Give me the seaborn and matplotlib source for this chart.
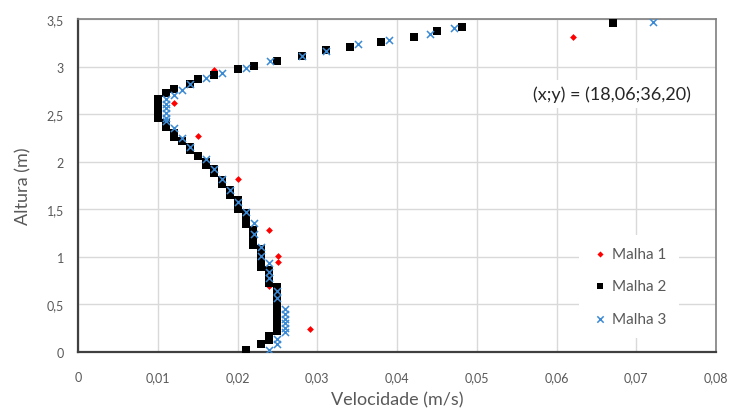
import matplotlib
matplotlib.use("Agg")
import matplotlib.pyplot as plt
import seaborn as sns
import pandas as pd
from matplotlib.ticker import FixedLocator, FuncFormatter

# ---- data (velocity m/s, height m) ----
m1_x = [0.0621, 0.0170, 0.0120, 0.0150, 0.0201, 0.0240, 0.0251, 0.0251, 0.0240, 0.0291]
m1_y = [3.314, 2.967, 2.617, 2.270, 1.815, 1.286, 1.006, 0.943, 0.697, 0.242]

m2_x = [0.0211, 0.0230, 0.0240, 0.0240,
        0.0250, 0.0250, 0.0250, 0.0250, 0.0250, 0.0250, 0.0250, 0.0250, 0.0250, 0.0250,
        0.0240, 0.0240, 0.0240, 0.0240,
        0.0230, 0.0230, 0.0230, 0.0230, 0.0230,
        0.0220, 0.0220, 0.0220, 0.0220,
        0.0211, 0.0211, 0.0211,
        0.0200, 0.0200, 0.0200,
        0.0190, 0.0190,
        0.0180, 0.0180,
        0.0170, 0.0170,
        0.0160, 0.0160,
        0.0150, 0.0140, 0.0140, 0.0130, 0.0120, 0.0120, 0.0110, 0.0110,
        0.0100, 0.0100, 0.0100, 0.0100, 0.0100,
        0.0110, 0.0120, 0.0140, 0.0150, 0.0171, 0.0200, 0.0221, 0.0250,
        0.0281, 0.0311, 0.0341, 0.0380, 0.0421, 0.0450, 0.0481, 0.0671]
m2_y = [0.02, 0.08, 0.13, 0.17,
        0.22, 0.27, 0.33, 0.38, 0.43, 0.48, 0.53, 0.58, 0.63, 0.68,
        0.72, 0.76, 0.81, 0.86,
        0.89, 0.92, 0.98, 1.03, 1.08,
        1.12, 1.18, 1.23, 1.28,
        1.35, 1.41, 1.46,
        1.50, 1.55, 1.60,
        1.65, 1.70,
        1.77, 1.81,
        1.88, 1.92,
        1.97, 2.00,
        2.06, 2.12, 2.15, 2.22, 2.26, 2.30, 2.36, 2.41,
        2.46, 2.51, 2.56, 2.61, 2.66,
        2.72, 2.76, 2.82, 2.87, 2.91, 2.97, 3.01, 3.06,
        3.11, 3.17, 3.21, 3.26, 3.31, 3.37, 3.42, 3.46]

m3_x = [0.0721, 0.0471, 0.0441, 0.0390, 0.0351, 0.0311, 0.0281, 0.0241, 0.0211,
        0.0181, 0.0161, 0.0140, 0.0130, 0.0120,
        0.0110, 0.0110, 0.0110, 0.0110, 0.0110, 0.0110,
        0.0120, 0.0130, 0.0140, 0.0160, 0.0171, 0.0181, 0.0191, 0.0201, 0.0211,
        0.0221, 0.0221, 0.0230, 0.0230, 0.0240, 0.0240, 0.0240,
        0.0250, 0.0250,
        0.0260, 0.0260, 0.0260, 0.0260, 0.0260, 0.0260,
        0.0250, 0.0250, 0.0240]
m3_y = [3.465, 3.402, 3.342, 3.283, 3.234, 3.167, 3.114, 3.055, 2.99,
        2.935, 2.876, 2.817, 2.757, 2.70,
        2.66, 2.61, 2.56, 2.51, 2.46, 2.43,
        2.35, 2.25, 2.15, 2.03, 1.92, 1.82, 1.70, 1.58, 1.475,
        1.36, 1.24, 1.10, 1.01, 0.94, 0.84, 0.775,
        0.645, 0.565,
        0.45, 0.40, 0.35, 0.30, 0.25, 0.21,
        0.14, 0.085, 0.024]

x_ticks = [0, 0.01, 0.02, 0.03, 0.04, 0.05, 0.06, 0.07, 0.08]
y_ticks = [0, 0.5, 1, 1.5, 2, 2.5, 3, 3.5]
series_names = ["Malha 1", "Malha 2", "Malha 3"]
annotation = "(x;y) = (18,06;36,20)"

df1 = pd.DataFrame({"v": m1_x, "h": m1_y})
df2 = pd.DataFrame({"v": m2_x, "h": m2_y})
df3 = pd.DataFrame({"v": m3_x, "h": m3_y})

sns.set_theme(style="white")
plt.rcParams["font.family"] = ["Lato", "DejaVu Sans"]

fig = plt.figure(figsize=(7.32, 4.10), dpi=100)
ax = fig.add_axes([78/732, 57/410, (716-78)/732, (353-20)/410])

sns.scatterplot(data=df1, x="v", y="h", ax=ax, marker="D", s=12, color="#FF0000",
                edgecolor="#FF0000", linewidth=0, label=series_names[0], zorder=3)
sns.scatterplot(data=df2, x="v", y="h", ax=ax, marker="s", s=30, color="black",
                edgecolor="black", linewidth=0, label=series_names[1], zorder=4)
sns.scatterplot(data=df3, x="v", y="h", ax=ax, marker="x", s=26, color="#3B8AD3",
                linewidth=1.1, label=series_names[2], zorder=5)

ax.set_xlim(0, 0.08)
ax.set_ylim(0, 3.5)
ax.xaxis.set_major_locator(FixedLocator(x_ticks))
ax.yaxis.set_major_locator(FixedLocator(y_ticks))
fmt = FuncFormatter(lambda v, p: ("%g" % round(v, 4)).replace(".", ","))
ax.xaxis.set_major_formatter(fmt)
ax.yaxis.set_major_formatter(fmt)
ax.tick_params(axis="both", length=0, labelsize=9, labelcolor="#595959")
ax.tick_params(axis="x", pad=14)
ax.tick_params(axis="y", pad=10)
ax.grid(True, color="#D9D9D9", linewidth=1)
ax.set_axisbelow(True)

for side in ["left", "bottom"]:
    ax.spines[side].set_color("#404040")
    ax.spines[side].set_linewidth(1.6)
for side in ["top", "right"]:
    ax.spines[side].set_color("#7F7F7F")
    ax.spines[side].set_linewidth(1.2)

ax.set_xlabel("Velocidade (m/s)", fontsize=13, color="#595959", labelpad=6)
ax.set_ylabel("Altura (m)", fontsize=13, color="#595959", labelpad=11)

ax.text(0.0670, 2.71, annotation, fontsize=13, color="#262626", ha="center", va="center",
        bbox=dict(facecolor="white", edgecolor="none", pad=4), zorder=6)

leg = ax.legend(loc="upper left", bbox_to_anchor=((571-78)/638, (353-228)/333),
                frameon=True, fontsize=11, labelspacing=1.2, handletextpad=0.2,
                borderpad=0.8, handlelength=1.2, markerscale=0.9)
leg.get_frame().set_facecolor("white")
leg.get_frame().set_edgecolor("none")
leg.get_frame().set_alpha(1)
for t in leg.get_texts():
    t.set_color("#595959")
leg.set_zorder(7)

fig.savefig("out.png", dpi=100, facecolor="white")
